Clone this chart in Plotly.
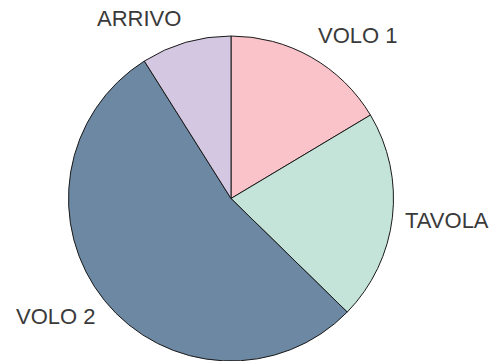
import math
import plotly.graph_objects as go

# Share of items per stage
labels = ["VOLO 1", "TAVOLA", "VOLO 2", "ARRIVO"]
values = [11, 14, 36, 6]
colors = ["#F9C3C9", "#C4E4DA", "#6C88A2", "#D3C7E1"]

W, H = 497, 361
cx, cy, r = 231, 199, 163

fig = go.Figure(
    go.Pie(
        labels=labels,
        values=values,
        sort=False,
        direction="clockwise",
        rotation=0,
        marker=dict(colors=colors, line=dict(color="#1a1a1a", width=1)),
        textinfo="none",
        showlegend=False,
        hoverinfo="label+value+percent",
        domain=dict(
            x=[(cx - r) / W, (cx + r) / W],
            y=[max(0, (H - cy - r) / H), (H - cy + r) / H],
        ),
    )
)

# Slice labels placed just outside the rim at each slice's mid-angle
total = sum(values)
start = 0.0
for lab, v in zip(labels, values):
    mid = (start + v / 2) / total * 2 * math.pi
    start += v
    sx, sy = math.sin(mid), math.cos(mid)
    px = cx + 1.06 * r * sx
    py = cy - 1.15 * r * sy
    fig.add_annotation(
        x=px / W,
        y=1 - py / H,
        xref="paper",
        yref="paper",
        text=lab,
        showarrow=False,
        xanchor="left" if sx > 0 else "right",
        yanchor="middle",
        font=dict(family="Liberation Sans, Arial, sans-serif", size=22, color="#3a3a3a"),
    )

fig.update_layout(
    width=W,
    height=H,
    margin=dict(l=0, r=0, t=0, b=0),
    paper_bgcolor="white",
    plot_bgcolor="white",
)

fig.write_html("out.html")
